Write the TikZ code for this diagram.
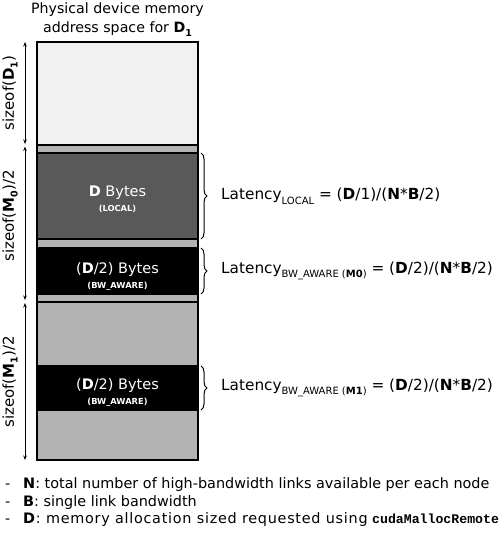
\documentclass[tikz,border=0pt]{standalone}
\usepackage{fontspec}
\setmainfont{DejaVu Sans}
\setmonofont{Liberation Mono}
\newfontfamily\widefont{DejaVu Sans}[LetterSpace=5]
\usetikzlibrary{arrows.meta,decorations.pathreplacing}
\definecolor{lightfill}{HTML}{F1F1F1}
\definecolor{stripfill}{HTML}{B3B3B3}
\definecolor{darkfill}{HTML}{595959}
\newcommand{\lsub}[1]{\raisebox{-0.3em}{\fontsize{10}{10}\selectfont #1}}
\newcommand{\dsub}[1]{\raisebox{-0.25em}{\fontsize{9.5}{10}\selectfont\bfseries #1}}
\begin{document}
\begin{tikzpicture}[x=1pt,y=-1pt,
  block/.style={draw=black, line width=1.1pt, minimum width=161pt, anchor=north west, inner sep=0pt, outer sep=0pt},
  sizearrow/.style={{Stealth[length=4.5pt,width=3.5pt]}-{Stealth[length=4.5pt,width=3.5pt]}, line width=0.6pt},
  rbrace/.style={decorate, decoration={brace, amplitude=6pt}, line width=1pt},
  lat/.style={anchor=west, inner sep=0pt, font=\fontsize{15.3}{18}\selectfont},
  big/.style={anchor=base, inner sep=0pt, text=white, font=\fontsize{14.5}{17}\selectfont},
  small/.style={anchor=base, inner sep=0pt, text=white, font=\fontsize{8.3}{9}\selectfont\bfseries},
  side/.style={rotate=90, inner sep=0pt, font=\fontsize{15}{18}\selectfont},
  note/.style={anchor=base west, inner sep=0pt, font=\fontsize{14.4}{17}\selectfont},
  title/.style={anchor=base, inner sep=0pt, font=\fontsize{14.2}{17}\selectfont}]
\useasboundingbox (0,0) rectangle (502,534);
% title
\node[title] (t1) at (117.5,13.5) {Physical device memory};
\node[title] (t2) at (117.5,33) {address space for \textbf{D}\dsub{1}};
% memory column
\node[block, fill=lightfill, minimum height=103pt] (d1) at (37,42) {};
\node[block, fill=stripfill, minimum height=8pt] (s1) at (37,145) {};
\node[block, fill=darkfill, minimum height=86pt] (loc) at (37,153) {};
\node[block, fill=stripfill, minimum height=9pt] (s2) at (37,239) {};
\node[block, fill=black, minimum height=46pt] (bw0) at (37,248) {};
\node[block, fill=stripfill, minimum height=8pt] (s3) at (37,294) {};
\node[block, fill=stripfill, minimum height=64pt] (g1) at (37,302) {};
\node[block, fill=black, minimum height=44pt] (bw1) at (37,366) {};
\node[block, fill=stripfill, minimum height=50pt] (g2) at (37,410) {};
% block texts
\node[big] (loct) at (117.5,197) {\textbf{D} Bytes};
\node[small] (locs) at (117.5,211.5) {(LOCAL)};
\node[big] (bw0t) at (117.5,273) {(\textbf{D}/2) Bytes};
\node[small] (bw0s) at (117.5,288) {(BW\_AWARE)};
\node[big] (bw1t) at (117.5,389) {(\textbf{D}/2) Bytes};
\node[small] (bw1s) at (117.5,404) {(BW\_AWARE)};
% size arrows
\coordinate (a1) at (25,42);
\coordinate (a2) at (25,144);
\coordinate (a3) at (25,146.5);
\coordinate (a4) at (25,300);
\coordinate (a5) at (25,303);
\coordinate (a6) at (25,460);
\draw[sizearrow] (a1) -- (a2);
\draw[sizearrow] (a3) -- (a4);
\draw[sizearrow] (a5) -- (a6);
\node[side] (sz1) at (10,93) {sizeof(\textbf{D}\dsub{1})};
\node[side] (sz2) at (10,216) {sizeof(\textbf{M}\dsub{0})/2};
\node[side] (sz3) at (10,382) {sizeof(\textbf{M}\dsub{1})/2};
% braces
\draw[rbrace] ([xshift=3pt]loc.north east) -- ([xshift=3pt]loc.south east);
\draw[rbrace] ([xshift=3pt]bw0.north east) -- ([xshift=3pt]bw0.south east);
\draw[rbrace] ([xshift=3pt]bw1.north east) -- ([xshift=3pt]bw1.south east);
\node[lat] (l1) at (221,196) {Latency\lsub{LOCAL} = (\textbf{D}/1)/(\textbf{N}*\textbf{B}/2)};
\node[lat] (l2) at (221,271) {Latency\lsub{BW\_AWARE (\textbf{M0})} = (\textbf{D}/2)/(\textbf{N}*\textbf{B}/2)};
\node[lat] (l3) at (221,388) {Latency\lsub{BW\_AWARE (\textbf{M1})} = (\textbf{D}/2)/(\textbf{N}*\textbf{B}/2)};
% notes
\node[note] (n1d) at (5,488) {-};
\node[note] (n1) at (23,488) {\textbf{N}: total number of high-bandwidth links available per each node};
\node[note] (n2d) at (5,506) {-};
\node[note] (n2) at (23,506) {\textbf{B}: single link bandwidth};
\node[note] (n3d) at (5,523.5) {-};
\node[note] (n3) at (23,523.5) {{\widefont\textbf{D}: memory allocation sized requested using} {\fontsize{13.2}{15}\selectfont\ttfamily\bfseries cudaMallocRemote}};
\end{tikzpicture}
\end{document}
